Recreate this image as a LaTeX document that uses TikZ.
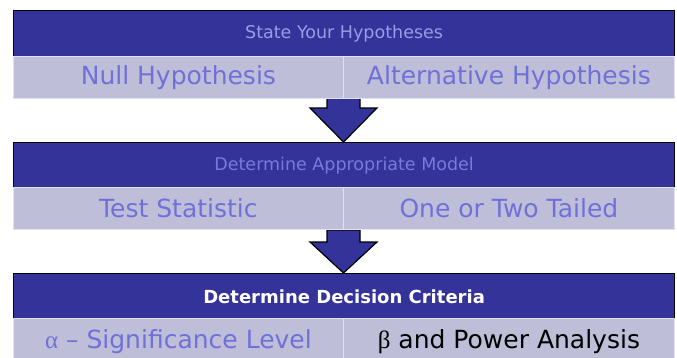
\documentclass[tikz,border=0pt]{standalone}
\usepackage{fontspec}
\setmainfont{DejaVu Sans}
\newfontfamily\greekfont{Liberation Serif}
\begin{document}
\begin{tikzpicture}[x=1pt,y=-1pt]
\definecolor{hdr}{RGB}{51,51,153}
\definecolor{band}{RGB}{190,190,216}
\definecolor{bandtxt}{RGB}{112,112,216}
\definecolor{hdrtxtA}{RGB}{154,154,230}
\definecolor{hdrtxtB}{RGB}{122,122,216}
\definecolor{bandline}{RGB}{226,226,236}
\tikzset{
  header/.style={draw=black, line width=1.2pt, fill=hdr, minimum width=661pt, minimum height=46pt, anchor=north west, inner sep=0pt, font=\fontsize{17.5}{20}\selectfont},
  cell/.style={draw=bandline, line width=0.8pt, fill=band, minimum height=42pt, anchor=north west, inner sep=0pt, text=bandtxt, font=\fontsize{25}{28}\selectfont},
  blockarrow/.style={draw=black, line width=1.2pt, fill=hdr, line join=miter}
}
\useasboundingbox (0,0) rectangle (677,357);
\clip (0,0) rectangle (677,357);
% arrows
\draw[blockarrow] (327,97) -- (360,97) -- (360,108) -- (377,108) -- (343.5,142) -- (310,108) -- (327,108) -- cycle;
\draw[blockarrow] (327,230) -- (360,230) -- (360,242) -- (377,242) -- (343.5,273) -- (310,242) -- (327,242) -- cycle;
% stage 1
\node[header, text=hdrtxtA] (h1) at (13,10) {State Your Hypotheses};
\node[cell, minimum width=330pt] (n1) at (13,56) {Null Hypothesis};
\node[cell, minimum width=331pt] (a1) at (343,56) {Alternative Hypothesis};
% stage 2
\node[header, text=hdrtxtB] (h2) at (13,142) {Determine Appropriate Model};
\node[cell, minimum width=330pt] (n2) at (13,187) {Test Statistic};
\node[cell, minimum width=331pt] (a2) at (343,187) {One or Two Tailed};
% stage 3
\node[header, text=white, font=\fontsize{18}{21}\selectfont\bfseries] (h3) at (13,273) {Determine Decision Criteria};
\node[cell, minimum width=330pt, minimum height=46pt] (n3) at (13,318) {{\greekfont α} – Significance Level};
\node[cell, minimum width=331pt, minimum height=46pt, text=black] (a3) at (343,318) {{\greekfont β} and Power Analysis};
\end{tikzpicture}
\end{document}
